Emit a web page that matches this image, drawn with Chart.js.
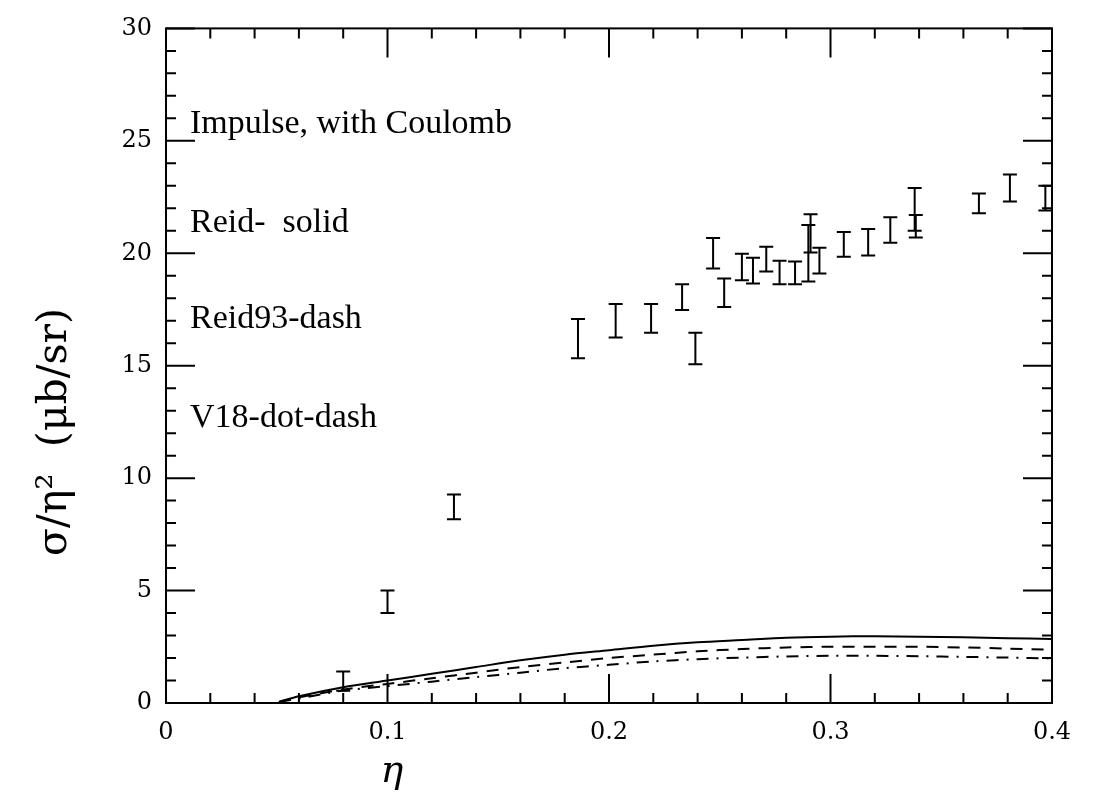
<!DOCTYPE html>
<html>
<head>
<meta charset="utf-8">
<script src="https://cdn.jsdelivr.net/npm/chart.js@4"></script>
<style>
  html, body { margin: 0; padding: 0; background: #fff; }
  #wrap { width: 1094px; height: 793px; }
</style>
</head>
<body>
<div id="wrap"><canvas id="myChart" width="1094" height="793"></canvas></div>
<script>
// model curves (eta grid shared by all three)
const etaModel = [0.051, 0.06, 0.08, 0.10, 0.12, 0.14, 0.16, 0.18, 0.20, 0.22, 0.24, 0.26, 0.28, 0.30, 0.32, 0.34, 0.36, 0.38, 0.40];
const reidSolid = [0.05, 0.3, 0.7, 1.0, 1.3, 1.6, 1.9, 2.15, 2.35, 2.55, 2.7, 2.8, 2.9, 2.95, 2.97, 2.95, 2.92, 2.88, 2.85];
const reid93Dash = [0.05, 0.25, 0.6, 0.85, 1.1, 1.35, 1.6, 1.8, 2.0, 2.15, 2.3, 2.4, 2.47, 2.5, 2.5, 2.5, 2.47, 2.42, 2.37];
const v18DotDash = [0.05, 0.2, 0.55, 0.75, 0.95, 1.15, 1.35, 1.55, 1.7, 1.85, 1.95, 2.02, 2.07, 2.1, 2.1, 2.08, 2.05, 2.02, 1.98];

// measured points, shown as error bars only
const dataEta  = [0.080, 0.100, 0.130, 0.186, 0.203, 0.219, 0.233, 0.239, 0.247, 0.252, 0.260, 0.265, 0.271, 0.277, 0.284, 0.290, 0.291, 0.295, 0.306, 0.317, 0.327, 0.338, 0.3385, 0.367, 0.381, 0.397];
const dataLow  = [0.55, 4.0, 8.17, 15.33, 16.25, 16.47, 17.48, 15.06, 19.32, 17.61, 18.8, 18.66, 19.19, 18.62, 18.62, 18.75, 20.03, 19.1, 19.85, 19.9, 20.47, 21.0, 20.7, 21.78, 22.3, 21.9];
const dataHigh = [1.4, 5.0, 9.27, 17.08, 17.74, 17.74, 18.62, 16.47, 20.68, 18.88, 19.98, 19.8, 20.29, 19.67, 19.63, 21.26, 21.74, 20.25, 20.95, 21.08, 21.6, 22.9, 21.7, 22.66, 23.5, 23.0];

const xTicks = [0, 0.1, 0.2, 0.3, 0.4];
const yTicks = [0, 5, 10, 15, 20, 25, 30];
const notes = ['Impulse, with Coulomb', 'Reid-  solid', 'Reid93-dash', 'V18-dot-dash'];

const serif = '"Liberation Serif", "DejaVu Serif", serif';
const wideSerif = '"DejaVu Serif", "Liberation Serif", serif';

function pts(xs, ys) {
    return xs.map((x, i) => ({ x: x, y: ys[i] }));
}

const boxTicks = {
    id: 'boxTicks',
    afterDatasetsDraw(chart) {
        const { ctx, chartArea: a, scales: { x, y } } = chart;
        ctx.save();
        ctx.strokeStyle = '#000';

        // error bars
        ctx.lineWidth = 2;
        for (let i = 0; i < dataEta.length; i++) {
            const px = x.getPixelForValue(dataEta[i]);
            const lo = y.getPixelForValue(dataLow[i]);
            const hi = y.getPixelForValue(dataHigh[i]);
            ctx.beginPath();
            ctx.moveTo(px, lo); ctx.lineTo(px, hi);
            ctx.moveTo(px - 7, lo); ctx.lineTo(px + 7, lo);
            ctx.moveTo(px - 7, hi); ctx.lineTo(px + 7, hi);
            ctx.stroke();
        }

        // frame
        ctx.lineWidth = 2;
        ctx.strokeRect(a.left, a.top, a.right - a.left, a.bottom - a.top);

        // inward ticks on all four sides
        ctx.beginPath();
        for (let i = 0; i <= 20; i++) {
            const px = x.getPixelForValue(i * 0.02);
            const len = i % 5 === 0 ? 29 : 10;
            ctx.moveTo(px, a.bottom); ctx.lineTo(px, a.bottom - len);
            ctx.moveTo(px, a.top); ctx.lineTo(px, a.top + len);
        }
        for (let j = 0; j <= 30; j++) {
            const py = y.getPixelForValue(j);
            const len = j % 5 === 0 ? 29 : 10;
            ctx.moveTo(a.left, py); ctx.lineTo(a.left + len, py);
            ctx.moveTo(a.right, py); ctx.lineTo(a.right - len, py);
        }
        ctx.stroke();

        // notes in the upper left
        ctx.fillStyle = '#000';
        ctx.textBaseline = 'alphabetic';
        ctx.textAlign = 'left';
        ctx.font = '34px ' + serif;
        const base = [133, 232, 328, 427];
        notes.forEach((t, k) => ctx.fillText(t, 190, base[k]));

        // axis titles
        ctx.font = 'italic 38px ' + wideSerif;
        ctx.textAlign = 'center';
        ctx.fillText('η', 392, 782);

        ctx.translate(66, 432);
        ctx.rotate(-Math.PI / 2);
        ctx.font = '41px ' + wideSerif;
        ctx.fillText('σ/η²  (μb/sr)', 0, 0);
        ctx.restore();
    }
};

const ctx = document.getElementById('myChart');
window.myChart = new Chart(ctx, {
    type: 'scatter',
    data: {
        datasets: [
            {
                label: 'Reid',
                type: 'line',
                data: pts(etaModel, reidSolid),
                borderColor: '#000',
                borderWidth: 2,
                pointRadius: 0,
                tension: 0.3,
                fill: false
            },
            {
                label: 'Reid93',
                type: 'line',
                data: pts(etaModel, reid93Dash),
                borderColor: '#000',
                borderWidth: 2,
                borderDash: [12, 9],
                pointRadius: 0,
                tension: 0.3,
                fill: false
            },
            {
                label: 'V18',
                type: 'line',
                data: pts(etaModel, v18DotDash),
                borderColor: '#000',
                borderWidth: 2,
                borderDash: [12, 8, 2, 8],
                pointRadius: 0,
                tension: 0.3,
                fill: false
            },
            {
                label: 'data',
                data: pts(dataEta, dataLow.map((l, i) => (l + dataHigh[i]) / 2)),
                pointRadius: 0,
                showLine: false
            }
        ]
    },
    options: {
        responsive: false,
        animation: false,
        layout: { padding: { top: 20, right: 42, left: 0, bottom: 0 } },
        plugins: {
            legend: { display: false },
            tooltip: { enabled: false }
        },
        scales: {
            x: {
                type: 'linear',
                min: 0,
                max: 0.4,
                afterFit: s => { s.height = 90; },
                afterBuildTicks: s => { s.ticks = xTicks.map(v => ({ value: v })); },
                grid: { display: false, drawTicks: false },
                border: { display: false },
                ticks: {
                    color: '#000',
                    padding: 15,
                    font: { family: wideSerif, size: 24 },
                    callback: v => v === 0 ? '0' : v.toFixed(1)
                }
            },
            y: {
                type: 'linear',
                min: 0,
                max: 30,
                afterFit: s => { s.width = 166; },
                afterBuildTicks: s => { s.ticks = yTicks.map(v => ({ value: v })); },
                grid: { display: false, drawTicks: false },
                border: { display: false },
                ticks: {
                    color: '#000',
                    padding: 14,
                    font: { family: wideSerif, size: 24 }
                }
            }
        }
    },
    plugins: [boxTicks]
});
</script>
</body>
</html>
